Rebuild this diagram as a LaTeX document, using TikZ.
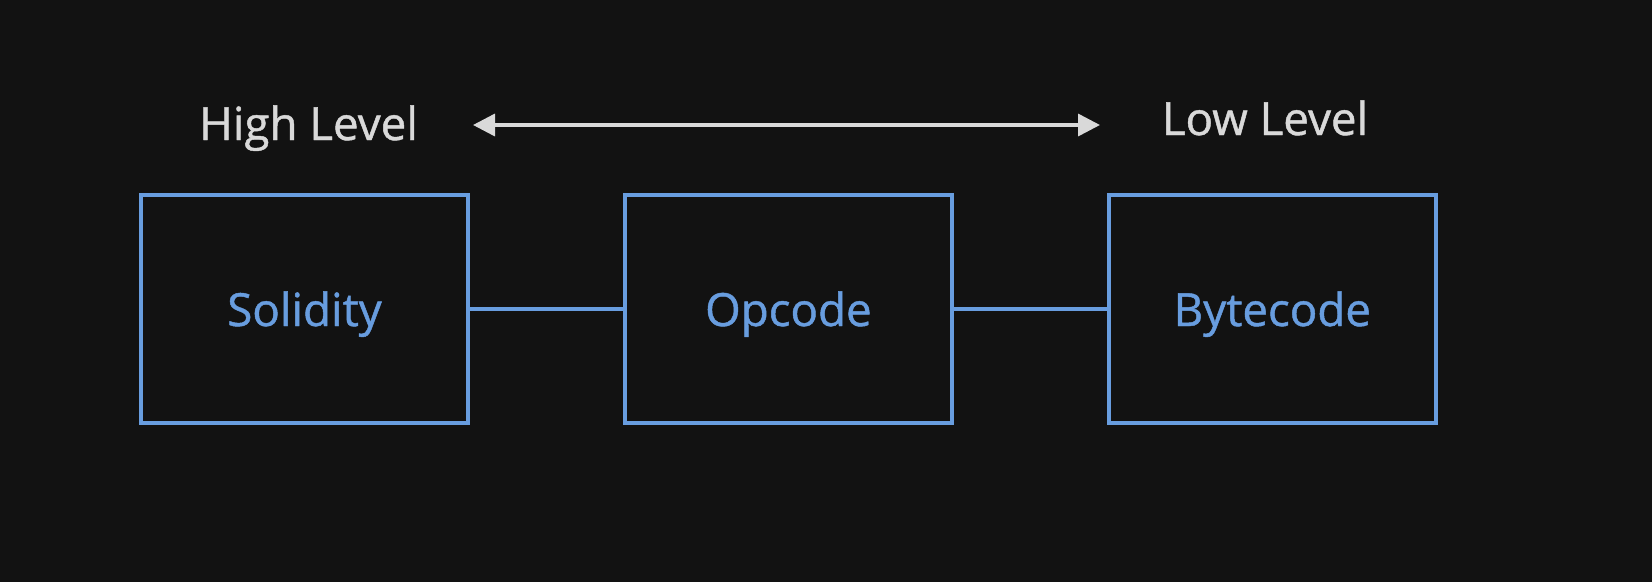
\documentclass[tikz,border=0pt]{standalone}
\usepackage{fontspec}
\setmainfont{Open Sans}
\newfontfamily\diagfont{Open Sans}[FakeBold=1]
\usetikzlibrary{positioning, arrows.meta}
\definecolor{bgdark}{HTML}{121212}
\definecolor{boxblue}{HTML}{689DDF}
\definecolor{labelgray}{HTML}{D9D9D9}

\begin{document}
\begin{tikzpicture}[x=0.02cm, y=-0.02cm, node distance=3.06cm,
	block/.style={rectangle, text centered, draw=boxblue, line width=0.08cm, minimum height=4.56cm, minimum width=6.54cm, text height=0.9cm, text depth=0.22cm, text=boxblue, font=\diagfont\fontsize{26}{31}\selectfont},
	level/.style={text=labelgray, anchor=base, font=\diagfont\fontsize{26}{31}\selectfont}]
	\fill[bgdark] (0,0) rectangle (1652,582);
	\node[block] (solid) at (304.5,309) {Solidity};
	\node[block] (opcode) [right=of solid]{Opcode};
	\node[block] (bytecode) [right=of opcode]{Bytecode};
	\node[level] (high) at (308.5,140) {High Level};
	\node[level] (low) at (1265,135) {Low Level};
	\coordinate (highend) at (473,125);
	\coordinate (lowend) at (1100,125);
	\draw [ {Triangle[length=0.44cm, width=0.44cm]}-{Triangle[length=0.44cm, width=0.44cm]}, draw=labelgray, fill=labelgray, line width=0.07cm ] (highend) -- (lowend);
	\draw [ boxblue, line width=0.08cm ] (solid.east) -- (opcode.west);
	\draw [ boxblue, line width=0.08cm ] (opcode.east) -- (bytecode.west);
\end{tikzpicture}
\end{document}
